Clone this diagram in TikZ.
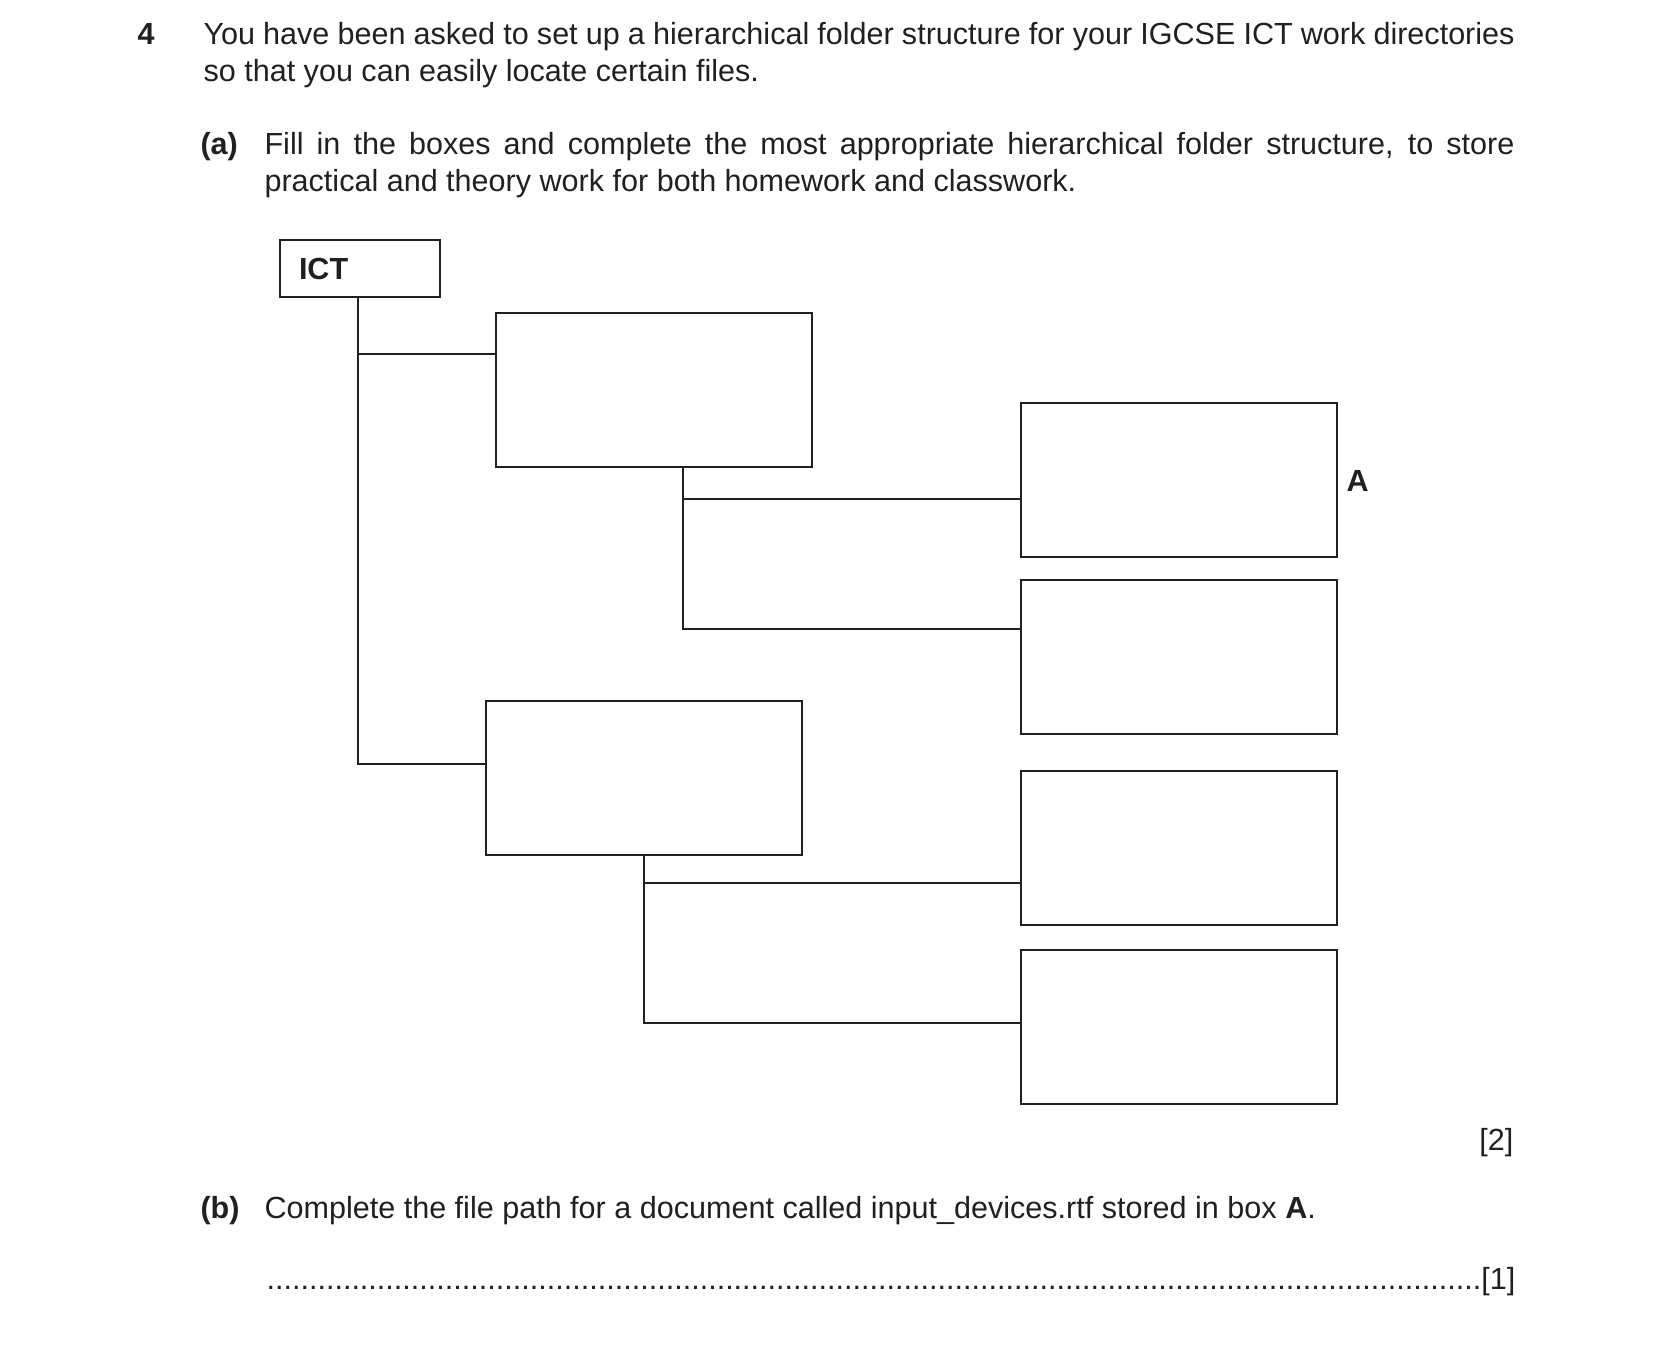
\documentclass[tikz,border=0pt]{standalone}
\usepackage{fontspec}
\setmainfont{Liberation Sans}
\usepackage{xcolor}
\usepackage{tikz}
\definecolor{ink}{HTML}{231F20}

\begin{document}
\begin{tikzpicture}[x=0.36pt,y=-0.36pt,
  every node/.style={font=\fontsize{11}{13.2}\selectfont,text=ink,inner sep=0pt},
  folder/.style={draw=ink,line width=0.8pt,minimum width=113.76pt,minimum height=55.44pt,anchor=north west},
  link/.style={draw=ink,line width=0.75pt},
  para/.style={anchor=base west,align=justify}]
\useasboundingbox (0,0) rectangle (1654,1346);
%\draw[help lines,step=100] (0,0) grid (1654,1346);
% question text
\node[anchor=base west] (qnum) at (137,45) {\bfseries 4};
\node[para,text width=472pt] (stem) at (203,45) {You have been asked to set up a hierarchical folder structure for your IGCSE ICT work directories\linebreak so that you can easily locate certain files.};
\node[anchor=base west] (labela) at (200,155) {\bfseries (a)};
\node[para,text width=450pt] (parta) at (264,155) {Fill in the boxes and complete the most appropriate hierarchical folder structure, to store\linebreak practical and theory work for both homework and classwork.};

% folder boxes
\node[folder,minimum width=57.6pt,minimum height=20.52pt,text width=44pt,align=left,inner xsep=6.8pt] (ict) at (279,239) {\bfseries ICT};
\node[folder] (hw) at (495,312) {};
\node[folder] (cw) at (485,700) {};
\node[folder] (hwp) at (1020,402) {};
\node[folder] (hwt) at (1020,579) {};
\node[folder] (cwp) at (1020,770) {};
\node[folder] (cwt) at (1020,949) {};
\node[anchor=base west] (boxa) at (1346,491) {\bfseries A};

% connectors
\draw[link] ([xshift=-0.7pt]ict.south) |- ([yshift=13.1pt]hw.west);
\draw[link] ([xshift=-0.7pt]ict.south) |- ([yshift=5pt]cw.west);
\draw[link] ([xshift=10.4pt]hw.south) |- ([yshift=-6.8pt]hwp.west);
\draw[link] ([xshift=10.4pt]hw.south) |- ([yshift=10pt]hwt.west);
\draw[link] (cw.south) |- ([yshift=-12.6pt]cwp.west);
\draw[link] (cw.south) |- ([yshift=1.4pt]cwt.west);

% marks and part (b)
\node[anchor=base east] (mark2) at (1514,1150) {[2]};
\node[anchor=base west] (labelb) at (200,1218) {\bfseries (b)};
\node[anchor=base west] (partb) at (264,1218) {Complete the file path for a document called input\_devices.rtf stored in box \textbf{A}.};
\node[anchor=base west] (answer) at (266,1289) {\hbox to 449.3pt{\leaders\hbox{.}\hfill[1]}};
\end{tikzpicture}
\end{document}
